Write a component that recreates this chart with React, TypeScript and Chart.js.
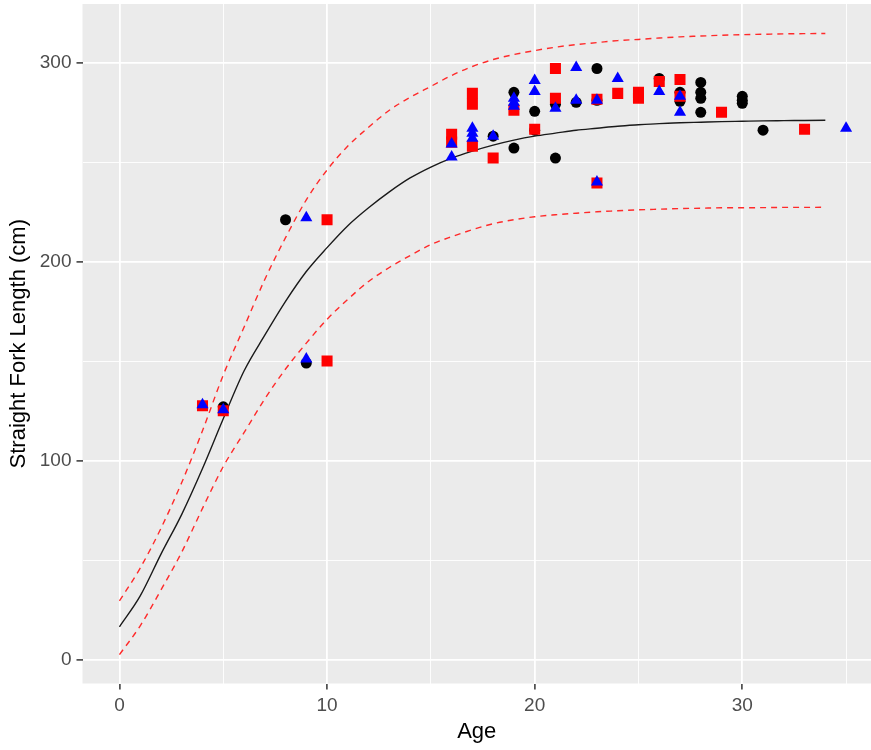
import React, { useEffect, useRef } from "react";
import { Chart, registerables } from "chart.js";

Chart.register(...registerables);

// ---- Fitted growth curve (read at integer ages) ----
const curveAges = [0, 1, 2, 3, 4, 5, 6, 7, 8, 9, 10, 11, 12, 13, 14, 15, 16, 17, 18, 19, 20, 21, 22, 23, 24, 25, 26, 27, 28, 29, 30, 31, 32, 33, 34];
const fitMean = [16.5, 32, 53, 73, 96, 121, 145, 163, 180, 195, 207, 218, 227, 235, 242, 247.5, 252, 255.5, 258.5, 261, 263, 264.5, 266, 267, 268, 268.7, 269.3, 269.7, 270, 270.3, 270.5, 270.7, 270.8, 270.9, 271];
const fitUpper = [29.5, 46, 66, 89, 115, 143, 167, 191, 212, 231, 246, 258, 267.5, 276, 282.5, 288, 293.5, 298, 301.5, 304, 306, 307.7, 309, 310, 311, 311.6, 312.3, 312.9, 313.3, 313.7, 314, 314.2, 314.4, 314.5, 314.6];
const fitLower = [2.5, 17, 35, 54, 76, 97, 114, 131, 146, 159, 171, 181, 190, 197, 203, 208.5, 212.5, 216, 219, 221, 222.5, 223.5, 224.3, 225, 225.5, 226, 226.3, 226.6, 226.8, 227, 227, 227.1, 227.2, 227.2, 227.3];

// ---- Observations: black circles ----
const blackAges = [5, 8, 9, 18, 19, 19, 20, 20, 21, 21, 22, 23, 23, 26, 27, 27, 28, 28, 28, 28, 30, 30, 30, 31];
const blackLengths = [127, 221, 149, 263, 285, 257, 275.5, 266, 279, 252, 280, 297, 281, 292, 285, 280.5, 290, 285, 282, 275, 283, 281, 279.5, 266];

// ---- Observations: red squares ----
const redAges = [4, 5, 10, 10, 16, 16, 17, 17, 17, 18, 19, 20, 21, 21, 23, 23, 24, 25, 25, 26, 27, 27, 29, 33];
const redLengths = [127.5, 125, 221, 150, 264, 260, 284.5, 279, 258, 252, 276, 266.5, 297, 282, 281.5, 239.5, 284.5, 285, 282, 290.5, 291.5, 283, 275, 266.5];

// ---- Observations: blue triangles ----
const blueAges = [4, 5, 9, 9, 16, 16, 17, 17, 17, 18, 19, 19, 19, 20, 20, 21, 22, 22, 23, 23, 24, 26, 27, 27, 35];
const blueLengths = [128, 125.5, 222, 151, 259, 252.5, 267, 264.5, 262, 263, 282, 280, 278, 291, 285.5, 277, 297.5, 281, 281, 240, 292, 285.5, 283, 275, 267];

// ---- Axes ----
const xTickValues = [0, 5, 10, 15, 20, 25, 30, 35];
const xLabeled = [0, 10, 20, 30];
const yTickValues = [0, 50, 100, 150, 200, 250, 300];
const yLabeled = [0, 100, 200, 300];
const xTitle = "Age";
const yTitle = "Straight Fork Length (cm)";

const FONT = "'Liberation Sans', Arial, 'DejaVu Sans', sans-serif";

const zip = (xs: number[], ys: number[]) => xs.map((x, i) => ({ x, y: ys[i] }));

const panelBg = {
  id: "panelBg",
  beforeDraw(chart: any) {
    const { ctx, chartArea } = chart;
    ctx.save();
    ctx.fillStyle = "#EBEBEB";
    ctx.fillRect(chartArea.left, chartArea.top, chartArea.right - chartArea.left, chartArea.bottom - chartArea.top);
    ctx.restore();
  },
};

export default function App() {
  const ref = useRef<HTMLCanvasElement | null>(null);

  useEffect(() => {
    if (!ref.current) return;
    const isMajor = (labeled: number[]) => (ctx: any) => labeled.includes(ctx.tick?.value);
    const xMajor = isMajor(xLabeled);
    const yMajor = isMajor(yLabeled);

    const chart = new Chart(ref.current, {
      type: "scatter",
      data: {
        datasets: [
          {
            label: "fit",
            data: zip(curveAges, fitMean),
            showLine: true,
            borderColor: "#1A1A1A",
            borderWidth: 1.4,
            pointRadius: 0,
            cubicInterpolationMode: "monotone",
            order: 6,
          } as any,
          {
            label: "upper",
            data: zip(curveAges, fitUpper),
            showLine: true,
            borderColor: "#FF2A2A",
            borderWidth: 1.4,
            borderDash: [6, 5],
            pointRadius: 0,
            cubicInterpolationMode: "monotone",
            order: 5,
          } as any,
          {
            label: "lower",
            data: zip(curveAges, fitLower),
            showLine: true,
            borderColor: "#FF2A2A",
            borderWidth: 1.4,
            borderDash: [6, 5],
            pointRadius: 0,
            cubicInterpolationMode: "monotone",
            order: 4,
          } as any,
          {
            label: "black",
            data: zip(blackAges, blackLengths),
            pointStyle: "circle",
            pointRadius: 5.5,
            backgroundColor: "#000000",
            borderWidth: 0,
            order: 3,
          },
          {
            label: "red",
            data: zip(redAges, redLengths),
            pointStyle: "rect",
            pointRadius: 7.8,
            backgroundColor: "#FF0000",
            borderWidth: 0,
            order: 2,
          },
          {
            label: "blue",
            data: zip(blueAges, blueLengths),
            pointStyle: "triangle",
            pointRadius: 7,
            backgroundColor: "#0000FF",
            borderWidth: 0,
            order: 1,
          },
        ],
      },
      options: {
        responsive: false,
        animation: false,
        events: [],
        layout: { autoPadding: false, padding: { top: 4, right: 0, left: 0, bottom: 0 } },
        plugins: {
          legend: { display: false },
          tooltip: { enabled: false },
        },
        scales: {
          x: {
            type: "linear",
            min: -1.78,
            max: 36.2,
            afterBuildTicks: (s: any) => {
              s.ticks = xTickValues.map((v) => ({ value: v }));
            },
            afterFit: (s: any) => {
              s.height = 66.5;
              s.paddingLeft = 0;
              s.paddingRight = 0;
            },
            ticks: {
              autoSkip: false,
              maxRotation: 0,
              padding: 5,
              color: "#4D4D4D",
              font: { family: FONT, size: 19 },
              callback: (v: any) => (xLabeled.includes(Number(v)) ? String(v) : ""),
            },
            grid: {
              color: "#FFFFFF",
              lineWidth: (c: any) => (xMajor(c) ? 1.8 : 0.9),
              tickColor: (c: any) => (xMajor(c) ? "#333333" : "rgba(0,0,0,0)"),
              tickWidth: 1.5,
              tickLength: 6,
              drawTicks: true,
            },
            border: { display: false },
            title: {
              display: true,
              text: xTitle,
              color: "#000000",
              font: { family: FONT, size: 22 },
              padding: { top: 0, bottom: 5 },
            },
          },
          y: {
            type: "linear",
            min: -12,
            max: 329.4,
            afterBuildTicks: (s: any) => {
              s.ticks = yTickValues.map((v) => ({ value: v }));
            },
            afterFit: (s: any) => {
              s.width = 82.5;
              s.paddingTop = 0;
              s.paddingBottom = 0;
            },
            ticks: {
              autoSkip: false,
              padding: 5,
              color: "#4D4D4D",
              font: { family: FONT, size: 19 },
              callback: (v: any) => (yLabeled.includes(Number(v)) ? String(v) : ""),
            },
            grid: {
              color: "#FFFFFF",
              lineWidth: (c: any) => (yMajor(c) ? 1.8 : 0.9),
              tickColor: (c: any) => (yMajor(c) ? "#333333" : "rgba(0,0,0,0)"),
              tickWidth: 1.5,
              tickLength: 6,
              drawTicks: true,
            },
            border: { display: false },
            title: {
              display: true,
              text: yTitle,
              color: "#000000",
              font: { family: FONT, size: 22 },
              padding: { top: 6, bottom: 0 },
            },
          },
        },
      } as any,
      plugins: [panelBg],
    });
    return () => chart.destroy();
  }, []);

  return (
    <div style={{ position: "absolute", left: 0, top: 0, width: 871, height: 750, background: "#FFFFFF" }}>
      <canvas ref={ref} width={871} height={750} style={{ display: "block", width: 871, height: 750 }} />
    </div>
  );
}
